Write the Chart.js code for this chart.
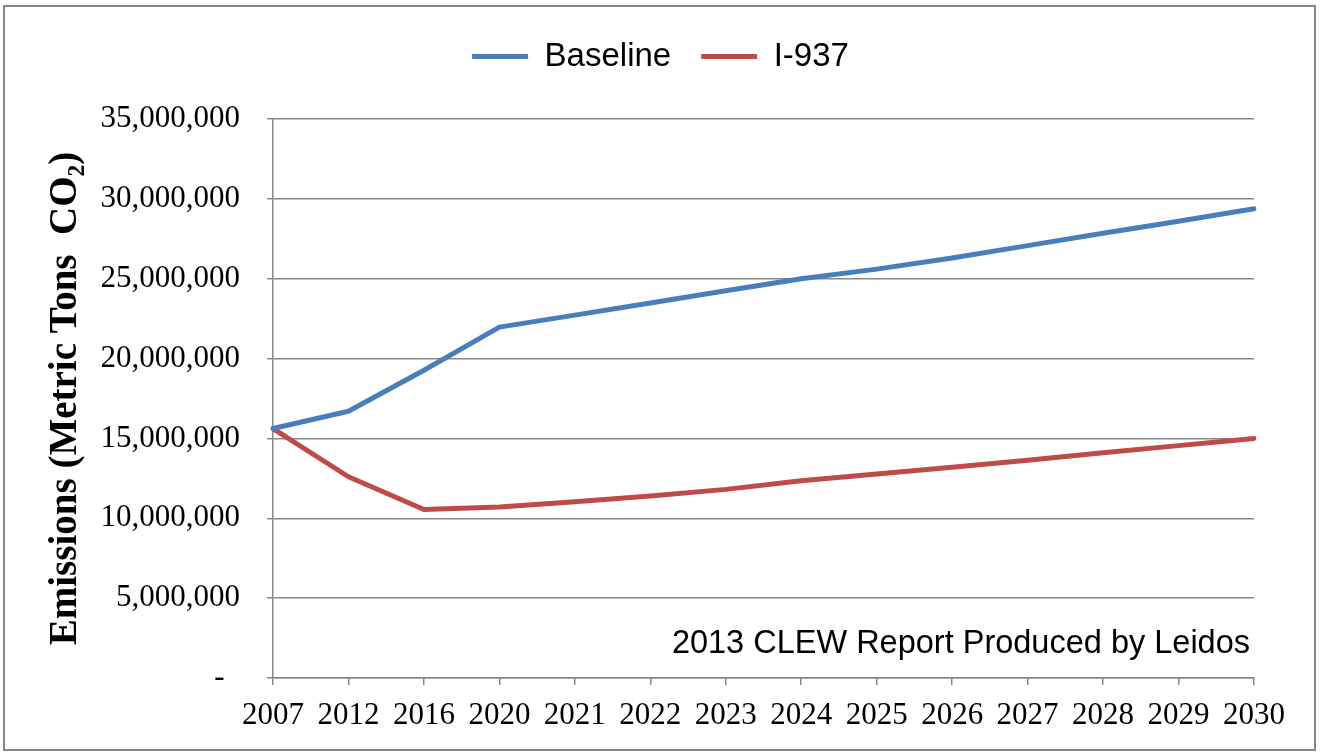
<!DOCTYPE html>
<html>
<head>
<meta charset="utf-8">
<script src="https://cdn.jsdelivr.net/npm/chart.js@4"></script>
<style>
  html, body { margin: 0; padding: 0; background: #fff; }
  #wrap { width: 1321px; height: 755px; position: relative; }
</style>
</head>
<body>
<div id="wrap"><canvas id="c"></canvas></div>
<script>
const years = ['2007','2012','2016','2020','2021','2022','2023','2024','2025','2026','2027','2028','2029','2030'];
const baseline = [15620000,16700000,19270000,21970000,22720000,23480000,24250000,25000000,25600000,26300000,27070000,27850000,28600000,29380000];
const i937 = [15620000,12600000,10550000,10700000,11040000,11390000,11810000,12350000,12770000,13190000,13640000,14100000,14550000,15000000];
const yTicks = [0,5000000,10000000,15000000,20000000,25000000,30000000,35000000];
const seriesNames = ['Baseline','I-937'];
const seriesColors = ['#4A7EBB','#BE4B48'];
const yTitle = 'Emissions (Metric Tons  CO\u2082)';
const note = '2013 CLEW Report Produced by Leidos';

const GRID = '#878787';

const extras = {
  id: 'extras',
  beforeDraw(chart) {
    const ctx = chart.ctx;
    ctx.save();
    ctx.fillStyle = '#fff';
    ctx.fillRect(0, 0, chart.width, chart.height);
    ctx.strokeStyle = '#878787';
    ctx.lineWidth = 2;
    ctx.strokeRect(4, 6, 1311, 744);
    ctx.restore();
  },
  afterDraw(chart) {
    const ctx = chart.ctx;
    const a = chart.chartArea;
    ctx.save();
    ctx.font = '32.5px "Liberation Sans", Arial, sans-serif';
    ctx.fillStyle = '#000';
    ctx.textAlign = 'right';
    ctx.textBaseline = 'alphabetic';
    ctx.fillText(note, a.right - 4, a.bottom - 25);
    ctx.restore();
  }
};

new Chart(document.getElementById('c'), {
  type: 'line',
  data: {
    labels: years,
    datasets: [
      { label: seriesNames[0], data: baseline, borderColor: seriesColors[0], backgroundColor: seriesColors[0],
        borderWidth: 5, pointRadius: 0, tension: 0, borderCapStyle: 'round', borderJoinStyle: 'round' },
      { label: seriesNames[1], data: i937, borderColor: seriesColors[1], backgroundColor: seriesColors[1],
        borderWidth: 5, pointRadius: 0, tension: 0, borderCapStyle: 'round', borderJoinStyle: 'round' }
    ]
  },
  options: {
    responsive: true,
    maintainAspectRatio: false,
    devicePixelRatio: 1,
    animation: false,
    layout: { padding: { top: 10, left: 0, right: 0, bottom: 10 } },
    plugins: {
      legend: {
        position: 'top',
        weight: 3000,
        labels: {
          boxWidth: 56,
          boxHeight: 5,
          padding: 30,
          color: '#000',
          font: { family: '"Liberation Sans", Arial, sans-serif', size: 33 },
          generateLabels: (chart) => chart.data.datasets.map((ds, i) => ({
            text: ds.label, fillStyle: ds.borderColor, strokeStyle: ds.borderColor,
            lineWidth: 0, hidden: false, datasetIndex: i, fontColor: '#000'
          }))
        }
      },
      subtitle: {
        display: true,
        text: ' ',
        position: 'top',
        weight: 500,
        font: { size: 10, lineHeight: 1 },
        padding: { top: 0, bottom: 26 }
      },
      tooltip: { enabled: false }
    },
    scales: {
      x: {
        type: 'category',
        offset: false,
        grid: { drawOnChartArea: false, drawTicks: true, tickLength: 7, color: GRID, lineWidth: 1.5 },
        border: { display: true, color: GRID, width: 1.5 },
        ticks: {
          color: '#000', padding: 12, maxRotation: 0, autoSkip: false,
          font: { family: '"Liberation Serif", "Times New Roman", serif', size: 31 }
        },
        afterFit: (s) => { s.height = 67; }
      },
      y: {
        type: 'linear',
        position: 'left',
        min: 0,
        max: 35000000,
        afterBuildTicks: (s) => { s.ticks = yTicks.map(v => ({ value: v })); },
        grid: { drawOnChartArea: true, drawTicks: true, tickLength: 6, color: GRID, lineWidth: 1.5 },
        border: { display: true, color: GRID, width: 1.5 },
        ticks: {
          color: '#000', padding: 27,
          font: { family: '"Liberation Serif", "Times New Roman", serif', size: 31 },
          callback: (v) => v === 0 ? '-  ' : Number(v).toLocaleString('en-US')
        },
        title: {
          display: true,
          text: yTitle,
          color: '#000',
          font: { family: '"Liberation Serif", "Times New Roman", serif', size: 39, weight: 'bold', lineHeight: 1.2 },
          padding: { top: 43, bottom: 0 }
        },
        afterFit: (s) => { s.width = 273; }
      },
      yRight: {
        type: 'linear',
        position: 'right',
        display: true,
        grid: { display: false, drawTicks: false },
        border: { display: false },
        ticks: { display: false },
        afterFit: (s) => { s.width = 67; }
      }
    }
  },
  plugins: [extras]
});
</script>
</body>
</html>
